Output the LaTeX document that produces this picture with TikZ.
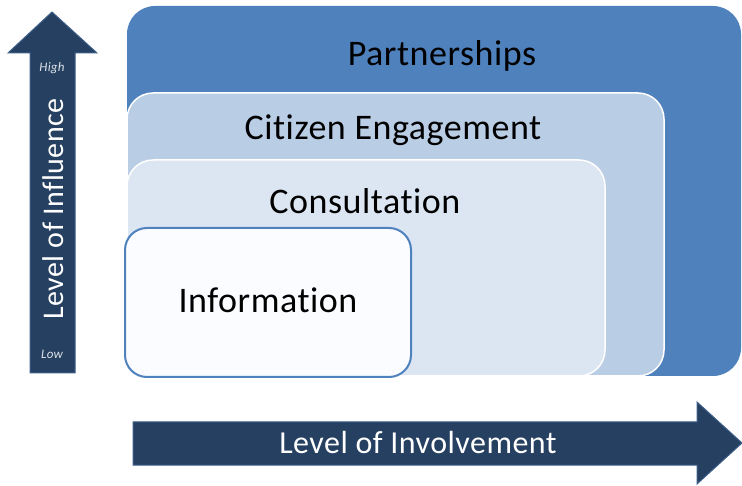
\documentclass[tikz,border=0pt]{standalone}
\usepackage{fontspec}
\setmainfont{Carlito}[Ligatures=NoCommon,LetterSpace=1.5]
\definecolor{navy}{HTML}{254061}
\definecolor{navyedge}{HTML}{3E5F8A}
\definecolor{blueA}{HTML}{4F81BD}
\definecolor{blueB}{HTML}{B9CDE5}
\definecolor{blueC}{HTML}{DCE6F2}
\definecolor{blueD}{HTML}{FAFCFF}
\begin{document}
\begin{tikzpicture}[x=1pt,y=1pt,level/.style={draw=white,line width=1.5pt,rounded corners=26pt},
title/.style={font=\fontsize{36}{40}\selectfont,text=black},axis/.style={fill=navy,draw=navyedge,line width=1pt},
axistext/.style={font=\fontsize{32}{35}\selectfont,text=white},tick/.style={font=\fontsize{13}{15}\itshape,text=white!85!navy}]
\useasboundingbox (0,0) rectangle (742,485);
\fill [blueA,rounded corners=28pt] (127,109) rectangle (741,479);
\draw [level,fill=blueB] (127,109) rectangle (664,392);
\draw [level,fill=blueC] (127,109) rectangle (605,325);
\draw [fill=blueD,draw=blueA,line width=2pt,rounded corners=22pt] (125,108) rectangle (411,257);
\node[title] (partner) at (442,429) {Partnerships};
\node[title] (citizen) at (393,355) {Citizen Engagement};
\node[title] (consult) at (365,284) {Consultation};
\node[title] (inform) at (268,185) {Information};
\draw [axis] (30,112) -- (30,432) -- (8,432) -- (52,473) -- (97,432) -- (75,432) -- (75,112) -- cycle;
\draw [axis] (133,20) -- (697,20) -- (697,1) -- (742,42) -- (697,83) -- (697,63) -- (133,63) -- cycle;
\node[axistext,font=\fontsize{30}{33}\selectfont,rotate=90] (influence) at (53,276) {Level of Influence};
\node[tick] (high) at (52,417) {High};
\node[tick] (low) at (52,131) {Low};
\node[axistext] (involve) at (418,42) {Level of Involvement};
\end{tikzpicture}
\end{document}
